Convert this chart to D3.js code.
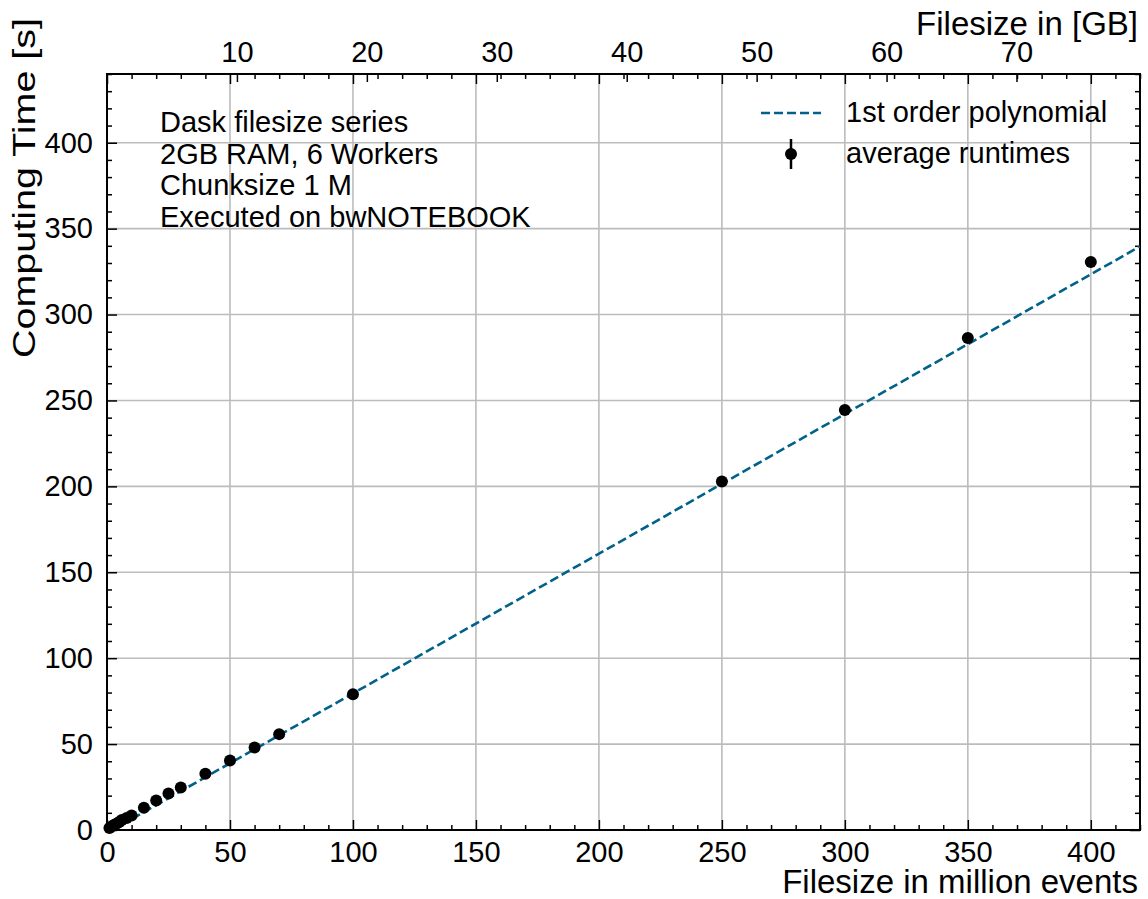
<!DOCTYPE html>
<html>
<head>
<meta charset="utf-8">
<script src="https://cdnjs.cloudflare.com/ajax/libs/d3/7.8.5/d3.min.js"></script>
<style>
  body { margin: 0; background: #fff; }
  text { font-family: "Liberation Sans", Arial, sans-serif; fill: #000; }
</style>
</head>
<body>
<script>
// Data
var events = [1, 2, 3, 4, 5, 6, 8, 10, 15, 20, 25, 30, 40, 50, 60, 70, 100, 250, 300, 350, 400];
var runtimes = [1.2, 2.2, 3.0, 3.8, 4.6, 5.8, 7.0, 8.4, 13.0, 17.2, 21.2, 24.8, 32.8, 40.4, 48.0, 55.8, 79.0, 202.8, 244.4, 286.4, 330.6];
// 1st order polynomial fit: slope, intercept
var fitCoeffs = [0.813, -1.8];
var gbPerMillion = 0.1893;
var xTicks = [0, 50, 100, 150, 200, 250, 300, 350, 400];
var yTicks = [0, 50, 100, 150, 200, 250, 300, 350, 400];
var gbTicks = [10, 20, 30, 40, 50, 60, 70];
var infoLines = ["Dask filesize series", "2GB RAM, 6 Workers", "Chunksize 1 M", "Executed on bwNOTEBOOK"];
var legendLabels = ["1st order polynomial", "average runtimes"];

var svgWidth = 1148;
var svgHeight = 899;

var margin = { top: 74, right: 8, bottom: 69, left: 107 };
var chartWidth = svgWidth - margin.left - margin.right;
var chartHeight = svgHeight - margin.top - margin.bottom;

var lineColor = "#00628b";

var svg = d3.select("body")
  .append("svg")
  .attr("width", svgWidth)
  .attr("height", svgHeight);

var chartGroup = svg.append("g")
  .attr("transform", `translate(${margin.left}, ${margin.top})`);

// scales
var xScale = d3.scaleLinear().domain([0, 420]).range([0, chartWidth]);
var yScale = d3.scaleLinear().domain([0, 440]).range([chartHeight, 0]);
var gbScale = d3.scaleLinear().domain([0, 420 * gbPerMillion]).range([0, chartWidth]);

// grid
chartGroup.append("g")
  .selectAll("line")
  .data(xTicks.slice(1))
  .enter()
  .append("line")
  .attr("x1", d => xScale(d)).attr("x2", d => xScale(d))
  .attr("y1", 0).attr("y2", chartHeight)
  .attr("stroke", "#bcbcbc").attr("stroke-width", 1.6);

chartGroup.append("g")
  .selectAll("line")
  .data(yTicks.slice(1))
  .enter()
  .append("line")
  .attr("x1", 0).attr("x2", chartWidth)
  .attr("y1", d => yScale(d)).attr("y2", d => yScale(d))
  .attr("stroke", "#bcbcbc").attr("stroke-width", 1.6);

var minorX = d3.range(0, 421, 10).filter(d => d % 50 !== 0);
var minorY = d3.range(0, 441, 10).filter(d => d % 50 !== 0);

// axes with inward ticks on every side
function styleAxis(g) {
  g.select(".domain").remove();
  g.selectAll("line").attr("stroke", "#000").attr("stroke-width", 1.5);
  g.selectAll("text").attr("font-size", "29px").attr("fill", "#000");
}

chartGroup.append("g")
  .attr("transform", `translate(0, ${chartHeight})`)
  .call(d3.axisBottom(xScale).tickValues(xTicks).tickSizeInner(-10).tickPadding(11))
  .call(styleAxis);
chartGroup.append("g")
  .attr("transform", `translate(0, ${chartHeight})`)
  .call(d3.axisBottom(xScale).tickValues(minorX).tickSizeInner(-5).tickFormat(""))
  .call(styleAxis);

chartGroup.append("g")
  .call(d3.axisLeft(yScale).tickValues(yTicks).tickSizeInner(-10).tickPadding(14))
  .call(styleAxis);
chartGroup.append("g")
  .call(d3.axisLeft(yScale).tickValues(minorY).tickSizeInner(-5).tickFormat(""))
  .call(styleAxis);

chartGroup.append("g")
  .attr("transform", `translate(${chartWidth}, 0)`)
  .call(d3.axisRight(yScale).tickValues(yTicks).tickSizeInner(-10).tickFormat(""))
  .call(styleAxis);
chartGroup.append("g")
  .attr("transform", `translate(${chartWidth}, 0)`)
  .call(d3.axisRight(yScale).tickValues(minorY).tickSizeInner(-5).tickFormat(""))
  .call(styleAxis);

chartGroup.append("g")
  .call(d3.axisTop(xScale).tickValues(xTicks).tickSizeInner(-10).tickFormat(""))
  .call(styleAxis);
chartGroup.append("g")
  .call(d3.axisTop(xScale).tickValues(minorX).tickSizeInner(-5).tickFormat(""))
  .call(styleAxis);

// secondary top axis in GB
chartGroup.append("g")
  .call(d3.axisTop(gbScale).tickValues(gbTicks).tickSizeInner(-8).tickPadding(12))
  .call(styleAxis);

// frame
chartGroup.append("rect")
  .attr("width", chartWidth).attr("height", chartHeight)
  .attr("fill", "none").attr("stroke", "#000").attr("stroke-width", 2);

// clip for the fit line
chartGroup.append("clipPath").attr("id", "plotClip")
  .append("rect").attr("width", chartWidth).attr("height", chartHeight);

var fitX = [1, 420];
var drawLine = d3.line()
  .x(d => xScale(d))
  .y(d => yScale(fitCoeffs[0] * d + fitCoeffs[1]));

chartGroup.append("path")
  .attr("d", drawLine(fitX))
  .attr("clip-path", "url(#plotClip)")
  .attr("fill", "none")
  .attr("stroke", lineColor)
  .attr("stroke-width", 2.6)
  .attr("stroke-dasharray", "9,4");

// draw dots
chartGroup.selectAll("circle.pt")
  .data(events)
  .enter()
  .append("circle")
  .attr("cx", (d, i) => xScale(d))
  .attr("cy", (d, i) => yScale(runtimes[i]))
  .attr("r", 6)
  .attr("fill", "#000");

// info text
chartGroup.append("g")
  .selectAll("text")
  .data(infoLines)
  .enter()
  .append("text")
  .attr("x", 53)
  .attr("y", (d, i) => 58 + i * 31.6)
  .attr("font-size", "29px")
  .text(d => d);

// legend
var legend = chartGroup.append("g").attr("transform", "translate(654, 0)");
legend.append("line")
  .attr("x1", 0).attr("x2", 60)
  .attr("y1", 39).attr("y2", 39)
  .attr("stroke", lineColor).attr("stroke-width", 2.6)
  .attr("stroke-dasharray", "9,4");
legend.append("line")
  .attr("x1", 30).attr("x2", 30)
  .attr("y1", 65).attr("y2", 95)
  .attr("stroke", "#000").attr("stroke-width", 2.5);
legend.append("circle")
  .attr("cx", 30).attr("cy", 80).attr("r", 6).attr("fill", "#000");
legend.selectAll("text")
  .data(legendLabels)
  .enter()
  .append("text")
  .attr("x", 85)
  .attr("y", (d, i) => 48 + i * 41)
  .attr("font-size", "29px")
  .text(d => d);

// axis labels
svg.append("text")
  .attr("x", 1138).attr("y", 893)
  .attr("text-anchor", "end")
  .attr("font-size", "33px")
  .text("Filesize in million events");

svg.append("text")
  .attr("x", 1138).attr("y", 35)
  .attr("text-anchor", "end")
  .attr("font-size", "33px")
  .text("Filesize in [GB]");

// y label runs past the top of the axes in the original
svg.append("text")
  .attr("transform", "translate(35, 18) rotate(-90)")
  .attr("text-anchor", "end")
  .attr("font-size", "31px")
  .attr("textLength", 340)
  .attr("lengthAdjust", "spacingAndGlyphs")
  .text("Computing Time [s]");
</script>
</body>
</html>
